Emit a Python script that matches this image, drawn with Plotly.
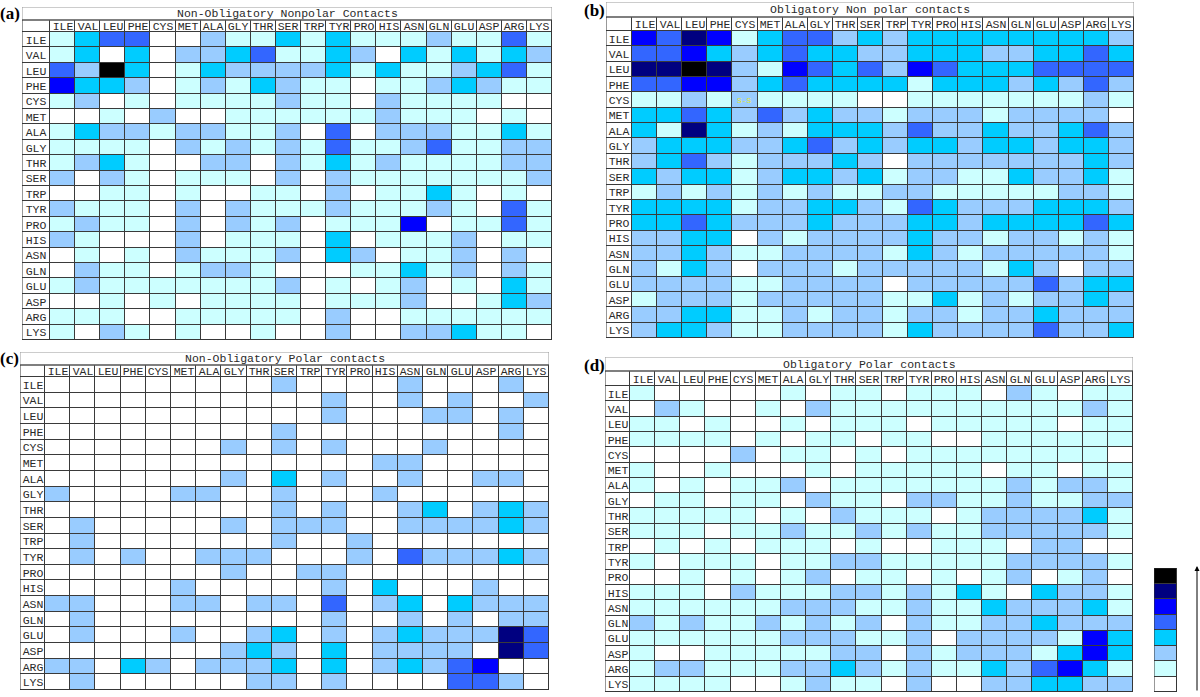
import plotly.graph_objects as go

aa = ["ILE","VAL","LEU","PHE","CYS","MET","ALA","GLY","THR","SER",
      "TRP","TYR","PRO","HIS","ASN","GLN","GLU","ASP","ARG","LYS"]

palette = ["#ffffff","#ccffff","#99ccff","#00ccff","#3366ff","#0000ff","#000080","#000000"]
legend_levels = [0, 1, 2, 3, 4, 5, 6, 7]

titles = ["Non-Obligatory Nonpolar Contacts", "Obligatory Non polar contacts",
          "Non-Obligatory Polar contacts", "Obligatory Polar contacts"]
panel_tags = ["(a)", "(b)", "(c)", "(d)"]

a_vals = [
    [1,3,4,4,0,0,2,1,1,3,1,3,1,1,1,2,1,1,4,1],
    [1,3,0,3,0,2,2,3,4,1,1,3,2,0,3,1,3,1,3,2],
    [4,2,7,3,0,1,3,2,2,2,2,3,1,3,1,1,2,3,4,1],
    [5,3,3,2,0,1,2,1,3,2,1,1,0,1,1,2,3,2,1,1],
    [1,2,0,1,0,1,1,1,1,2,1,1,0,2,1,1,1,1,0,0],
    [0,0,1,0,2,0,0,1,1,1,1,1,1,2,1,1,1,0,1,0],
    [1,3,2,2,1,2,2,1,1,2,0,4,0,2,2,2,1,1,3,1],
    [1,1,1,1,0,2,1,2,1,2,1,4,1,1,2,4,1,1,2,2],
    [1,2,3,1,0,0,2,2,0,2,1,3,1,2,1,1,1,1,2,2],
    [2,0,2,1,0,1,1,1,0,2,0,2,1,1,1,1,1,1,1,2],
    [0,0,1,1,0,1,0,0,1,1,0,2,0,1,1,3,1,0,1,0],
    [2,1,1,1,0,2,0,2,1,1,1,2,1,1,1,2,1,0,4,1],
    [1,2,1,1,0,2,0,2,1,2,0,1,1,1,5,0,1,1,4,1],
    [2,1,0,0,0,2,0,1,1,1,0,3,0,1,1,1,2,0,1,1],
    [0,1,0,1,0,2,1,1,1,2,0,3,2,0,1,1,2,0,2,0],
    [0,2,1,1,0,1,2,2,1,0,0,0,1,1,3,1,2,0,2,1],
    [1,2,1,1,1,1,1,1,1,2,0,1,0,1,2,0,1,0,3,1],
    [0,0,1,0,1,0,1,1,1,1,0,1,1,1,2,0,0,1,3,2],
    [1,1,1,0,0,1,1,1,1,1,0,2,0,0,1,1,1,1,1,1],
    [1,0,2,1,0,1,0,0,1,0,0,2,0,0,2,2,3,1,1,0],
]

b_vals = [
    [5,4,6,5,1,3,4,4,2,3,2,3,3,3,3,3,3,3,3,2],
    [4,4,5,3,2,3,4,3,3,2,2,3,3,3,2,2,3,3,4,3],
    [6,6,7,6,2,1,5,4,3,4,2,5,4,3,3,3,4,4,4,4],
    [4,4,5,5,2,3,4,3,3,3,3,1,3,3,3,2,3,2,4,2],
    [1,1,2,1,2,1,1,1,1,0,0,1,1,1,1,1,1,1,2,1],
    [3,3,4,3,2,4,2,3,2,2,1,2,2,2,1,2,2,2,2,0],
    [3,1,6,3,1,2,1,3,3,3,2,4,2,2,3,2,2,3,4,2],
    [2,3,3,3,2,2,3,4,2,3,2,3,3,2,3,3,2,3,3,2],
    [2,3,4,2,1,2,2,2,3,2,0,2,2,2,2,2,2,2,3,2],
    [3,2,3,3,1,2,3,3,2,3,1,2,2,1,1,3,2,2,3,1],
    [1,2,1,2,1,2,1,2,1,1,2,2,1,1,1,1,1,2,2,1],
    [3,3,3,3,1,2,2,3,3,2,1,4,3,2,2,2,3,3,3,2],
    [3,3,4,3,2,2,2,3,2,2,2,3,3,2,3,3,3,3,4,3],
    [2,2,3,3,0,2,1,2,2,2,2,3,2,2,1,2,2,1,2,1],
    [2,2,3,2,1,1,2,2,2,2,1,3,2,1,2,2,2,2,2,1],
    [2,1,3,2,0,2,2,2,1,2,2,2,2,2,1,3,2,0,2,2],
    [2,2,2,2,1,1,2,2,2,2,0,2,2,2,2,2,4,2,3,3],
    [1,2,2,2,1,2,2,2,2,2,1,1,3,1,2,1,2,2,3,2],
    [2,2,3,3,1,1,2,1,2,2,1,2,2,1,2,2,3,2,2,2],
    [2,3,3,2,1,1,2,2,2,2,1,3,2,2,2,2,4,2,2,3],
]

c_vals = [
    [0,0,0,0,0,0,0,0,0,2,0,0,0,0,2,0,0,0,2,0],
    [0,0,0,0,0,0,0,0,0,0,0,2,0,0,2,0,2,0,0,2],
    [0,0,0,0,0,0,0,0,0,0,0,2,0,0,0,2,2,0,2,0],
    [0,0,0,0,0,0,0,0,0,2,0,0,0,0,0,0,0,0,2,0],
    [0,0,0,0,0,0,0,2,0,2,0,2,0,0,0,2,0,0,0,0],
    [0,0,0,0,0,0,0,0,0,0,0,0,0,2,2,0,0,0,0,0],
    [0,0,0,0,0,0,0,2,0,3,0,2,0,0,2,0,0,2,2,0],
    [2,0,0,0,0,2,2,0,0,2,0,0,0,2,0,0,0,0,0,0],
    [0,0,0,0,0,0,0,0,0,2,0,2,0,0,2,3,0,2,3,2],
    [0,2,0,0,0,0,0,2,0,2,2,2,0,0,2,2,2,2,3,2],
    [0,2,0,0,0,0,0,0,0,2,0,0,2,0,0,0,0,0,0,0],
    [0,2,0,2,0,0,2,2,2,0,0,0,2,0,4,2,2,2,3,2],
    [0,0,0,0,0,0,0,2,0,0,2,2,0,0,0,0,0,0,0,0],
    [0,0,0,0,0,2,0,0,0,0,0,2,0,3,0,0,0,2,0,0],
    [2,2,0,0,0,2,2,0,2,2,0,4,0,2,3,0,3,2,2,2],
    [0,2,0,0,0,0,0,0,0,0,0,2,0,0,2,0,2,0,2,2],
    [0,2,0,0,0,2,0,0,2,3,0,2,0,2,3,2,2,2,6,4],
    [0,0,0,0,0,0,0,2,3,2,0,3,0,2,2,2,2,0,6,4],
    [2,2,0,3,2,0,2,2,2,3,0,3,0,2,3,2,4,5,0,0],
    [0,2,0,0,0,0,0,0,2,2,0,2,0,0,0,0,4,4,2,0],
]

d_vals = [
    [1,0,0,0,0,0,1,0,1,1,0,1,1,1,0,2,1,0,1,1],
    [0,2,1,0,0,1,0,2,1,1,1,1,1,1,1,1,1,1,2,1],
    [1,1,0,1,0,0,1,0,1,1,1,0,1,1,1,1,1,0,1,1],
    [1,1,1,1,0,1,0,1,1,0,1,1,0,0,1,1,1,1,1,1],
    [0,0,0,0,2,0,1,1,0,1,0,1,1,1,1,1,1,1,1,0],
    [1,0,0,1,0,0,0,1,0,1,1,1,1,1,0,1,1,0,1,1],
    [1,0,1,0,1,1,2,0,1,1,1,1,1,1,1,2,1,2,2,1],
    [0,1,1,0,1,1,0,2,1,1,0,2,2,1,1,2,1,1,2,2],
    [1,1,1,1,1,0,1,0,2,1,1,1,0,1,2,2,2,2,3,1],
    [1,1,1,0,1,1,2,1,1,2,1,2,1,1,2,2,2,2,2,1],
    [0,1,0,1,0,1,1,1,0,1,0,0,1,1,1,0,2,2,0,0],
    [1,0,1,1,1,0,1,1,2,2,1,1,1,1,1,2,2,2,2,1],
    [0,0,1,0,1,0,1,2,0,1,1,0,1,0,1,2,0,1,2,0],
    [1,1,1,0,2,1,1,1,2,2,1,2,1,3,1,0,3,2,2,1],
    [1,1,1,1,1,1,2,2,2,1,1,2,1,1,3,2,2,2,3,1],
    [2,1,2,1,1,2,1,2,1,2,0,2,1,1,2,2,3,2,2,2],
    [1,1,1,1,1,1,2,2,2,1,1,2,0,2,2,2,2,1,5,3],
    [1,0,0,1,1,1,1,1,2,2,0,2,1,2,2,2,1,3,5,3],
    [1,2,2,1,1,1,2,2,3,2,1,2,1,1,3,2,4,5,3,1],
    [1,1,1,1,0,0,1,2,1,1,0,2,0,0,2,2,3,3,2,2],
]

W, H = 1200, 697
# layout geometry in pixels: (left, cells_left, cells_right, title_top, header_top, cells_top, bottom, font)
geoms = [
    (22, 50, 552, 7, 20, 32, 340, 11.5),
    (606, 632, 1134, 2, 17, 31, 338, 11.5),
    (20, 45, 549, 352, 365, 377, 690, 11.5),
    (605, 630, 1133, 357, 371, 386, 692, 11.5),
]
tag_pos = [(10, 13), (594, 11), (9, 359), (594, 365)]

colorscale = []
for i, c in enumerate(palette):
    colorscale += [[i / 8, c], [(i + 1) / 8, c]]

fig = go.Figure()
shapes, annotations = [], []
layout_axes = {}
mono = "Liberation Mono, Courier New, monospace"

for k, vals in enumerate([a_vals, b_vals, c_vals, d_vals]):
    L, CL, CR, T, HT, CT, B, fs = geoms[k]
    cw = (CR - CL) / 20.0
    ch = (B - CT) / 20.0
    lw = (CL - L) / cw
    hh = (CT - HT) / ch
    th = (CT - T) / ch
    z = [[0] * 21] + [[0] + list(r) for r in vals]
    text = [[""] + aa] + [[aa[i]] + [""] * 20 for i in range(20)]
    xe = [-lw] + list(range(21))
    ye = [-hh] + list(range(21))
    n = "" if k == 0 else str(k + 1)
    fig.add_trace(go.Heatmap(
        z=z, x=xe, y=ye, text=text, texttemplate="%{text}",
        textfont=dict(family=mono, size=fs, color="#2a2a2a"),
        colorscale=colorscale, zmin=-0.5, zmax=7.5, showscale=False,
        xgap=1, ygap=1, hoverinfo="skip",
        xaxis="x" + n, yaxis="y" + n))
    layout_axes["xaxis" + n] = dict(domain=[L / W, CR / W], range=[-lw, 20],
                                    visible=False, fixedrange=True, anchor="y" + n)
    layout_axes["yaxis" + n] = dict(domain=[1 - B / H, 1 - T / H], range=[20, -th],
                                    visible=False, fixedrange=True, anchor="x" + n)
    xr, yr = "x" + n, "y" + n
    shapes.append(dict(type="rect", xref=xr, yref=yr, x0=-lw, x1=20, y0=-th, y1=-hh,
                       fillcolor="white", line=dict(color="#999999", width=1), layer="above"))
    shapes.append(dict(type="rect", xref=xr, yref=yr, x0=-lw, x1=20, y0=-hh, y1=20,
                       fillcolor="rgba(0,0,0,0)", line=dict(color="#333333", width=1), layer="above"))
    annotations.append(dict(xref=xr, yref=yr, x=(20 - lw) / 2, y=-(th + hh) / 2,
                            xanchor="center", yanchor="middle",
                            text=titles[k], showarrow=False,
                            font=dict(family=mono, size=fs, color="#2a2a2a")))
    tx, ty = tag_pos[k]
    annotations.append(dict(xref="paper", yref="paper", x=tx / W, y=1 - ty / H,
                            xanchor="center", yanchor="middle",
                            text="<b>" + panel_tags[k] + "</b>", showarrow=False,
                            font=dict(family="Liberation Serif, Times New Roman, serif",
                                      size=17, color="black")))
    if k == 1:
        annotations.append(dict(xref=xr, yref=yr, x=4.5, y=4.5, text="S-S", showarrow=False,
                                xanchor="center", yanchor="middle",
                                font=dict(family=mono, size=8, color="#e6e62e")))

# legend strip
fig.add_trace(go.Heatmap(
    z=[[v] for v in legend_levels], x=[0], y=legend_levels,
    colorscale=colorscale, zmin=-0.5, zmax=7.5, showscale=False,
    xgap=1, ygap=1, hoverinfo="skip", xaxis="x5", yaxis="y5"))
layout_axes["xaxis5"] = dict(domain=[1154 / W, 1177 / W], range=[-0.5, 0.5],
                             visible=False, fixedrange=True, anchor="y5")
layout_axes["yaxis5"] = dict(domain=[1 - 692 / H, 1 - 568 / H], range=[-0.5, 7.5],
                             visible=False, fixedrange=True, anchor="x5")
shapes.append(dict(type="rect", xref="x5", yref="y5", x0=-0.5, x1=0.5, y0=-0.5, y1=7.5,
                   fillcolor="rgba(0,0,0,0)", line=dict(color="#333333", width=1), layer="above"))
annotations.append(dict(xref="paper", yref="paper", x=1197 / W, y=1 - 566 / H,
                        ax=0, ay=126, text="", showarrow=True, arrowhead=2,
                        arrowsize=1, arrowwidth=1, arrowcolor="black"))

fig.update_layout(width=W, height=H, margin=dict(l=0, r=0, t=0, b=0),
                  paper_bgcolor="white", plot_bgcolor="#3a3a3a",
                  shapes=shapes, annotations=annotations, **layout_axes)
fig.write_html("out.html", config={"displayModeBar": False},
               post_script="document.body.style.margin='0px';document.body.style.overflow='hidden';")
